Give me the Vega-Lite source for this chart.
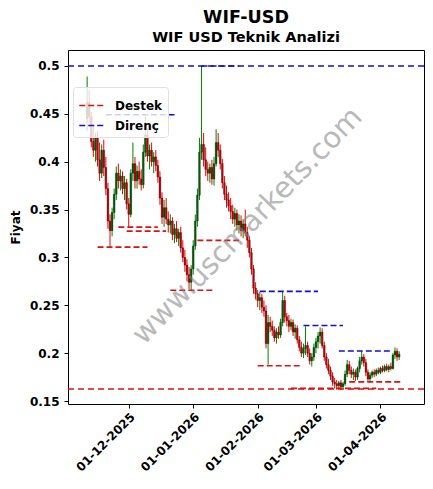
{
  "$schema": "https://vega.github.io/schema/vega-lite/v6.json",
  "width": 356,
  "height": 354,
  "autosize": {"type": "none"},
  "padding": {"left": 68, "top": 50, "right": 9, "bottom": 85},
  "background": "white",
  "title": {
    "text": "WIF-USD",
    "subtitle": "WIF USD Teknik Analizi",
    "font": "DejaVu Sans",
    "subtitleFont": "DejaVu Sans",
    "fontSize": 17.5,
    "subtitleFontSize": 14.5,
    "fontWeight": "bold",
    "subtitleFontWeight": "bold",
    "color": "black",
    "subtitleColor": "black",
    "anchor": "middle",
    "offset": 6,
    "subtitlePadding": 4
  },
  "config": {
    "view": {"stroke": "black", "strokeWidth": 1},
    "axis": {
      "labelFont": "DejaVu Sans",
      "labelFontWeight": "bold",
      "labelFontSize": 12,
      "labelColor": "black",
      "labelOverlap": false,
      "titleFont": "DejaVu Sans",
      "titleFontWeight": "bold",
      "titleFontSize": 12,
      "titleColor": "black",
      "tickColor": "black",
      "tickSize": 4,
      "domain": false,
      "grid": false
    },
    "legend": {
      "labelFont": "DejaVu Sans",
      "labelFontWeight": "bold",
      "labelFontSize": 12,
      "labelColor": "black",
      "labelOffset": 10,
      "symbolType": "stroke",
      "symbolStrokeWidth": 1.6,
      "symbolDash": [6, 3],
      "symbolSize": 600,
      "fillColor": "rgba(255,255,255,0.8)",
      "strokeColor": "#e0e0e0",
      "padding": 5,
      "rowPadding": 0,
      "cornerRadius": 3
    }
  },
  "datasets": {
    "candles": [
      {"d":"2025-11-11","o":0.445,"h":0.489,"l":0.432,"c":0.462},
      {"d":"2025-11-12","o":0.462,"h":0.475,"l":0.440,"c":0.447},
      {"d":"2025-11-13","o":0.447,"h":0.452,"l":0.415,"c":0.421},
      {"d":"2025-11-14","o":0.421,"h":0.438,"l":0.405,"c":0.412},
      {"d":"2025-11-15","o":0.412,"h":0.430,"l":0.400,"c":0.425},
      {"d":"2025-11-16","o":0.425,"h":0.432,"l":0.395,"c":0.402},
      {"d":"2025-11-17","o":0.402,"h":0.420,"l":0.380,"c":0.388},
      {"d":"2025-11-18","o":0.388,"h":0.418,"l":0.383,"c":0.412},
      {"d":"2025-11-19","o":0.412,"h":0.423,"l":0.385,"c":0.394},
      {"d":"2025-11-20","o":0.394,"h":0.405,"l":0.365,"c":0.372},
      {"d":"2025-11-21","o":0.372,"h":0.378,"l":0.330,"c":0.338},
      {"d":"2025-11-22","o":0.338,"h":0.345,"l":0.311,"c":0.328},
      {"d":"2025-11-23","o":0.328,"h":0.352,"l":0.322,"c":0.347},
      {"d":"2025-11-24","o":0.347,"h":0.372,"l":0.340,"c":0.366},
      {"d":"2025-11-25","o":0.366,"h":0.395,"l":0.360,"c":0.388},
      {"d":"2025-11-26","o":0.388,"h":0.398,"l":0.372,"c":0.380},
      {"d":"2025-11-27","o":0.380,"h":0.392,"l":0.370,"c":0.385},
      {"d":"2025-11-28","o":0.385,"h":0.390,"l":0.366,"c":0.372},
      {"d":"2025-11-29","o":0.372,"h":0.385,"l":0.360,"c":0.378},
      {"d":"2025-11-30","o":0.378,"h":0.382,"l":0.350,"c":0.356},
      {"d":"2025-12-01","o":0.356,"h":0.362,"l":0.331,"c":0.345},
      {"d":"2025-12-02","o":0.345,"h":0.392,"l":0.342,"c":0.388},
      {"d":"2025-12-03","o":0.388,"h":0.420,"l":0.380,"c":0.398},
      {"d":"2025-12-04","o":0.398,"h":0.405,"l":0.372,"c":0.380},
      {"d":"2025-12-05","o":0.380,"h":0.396,"l":0.372,"c":0.390},
      {"d":"2025-12-06","o":0.390,"h":0.400,"l":0.376,"c":0.382},
      {"d":"2025-12-07","o":0.382,"h":0.392,"l":0.370,"c":0.376},
      {"d":"2025-12-08","o":0.376,"h":0.418,"l":0.372,"c":0.410},
      {"d":"2025-12-09","o":0.410,"h":0.447,"l":0.405,"c":0.428},
      {"d":"2025-12-10","o":0.428,"h":0.435,"l":0.400,"c":0.406},
      {"d":"2025-12-11","o":0.406,"h":0.418,"l":0.392,"c":0.412},
      {"d":"2025-12-12","o":0.412,"h":0.420,"l":0.395,"c":0.400},
      {"d":"2025-12-13","o":0.400,"h":0.410,"l":0.388,"c":0.405},
      {"d":"2025-12-14","o":0.405,"h":0.412,"l":0.390,"c":0.396},
      {"d":"2025-12-15","o":0.396,"h":0.402,"l":0.378,"c":0.384},
      {"d":"2025-12-16","o":0.384,"h":0.390,"l":0.355,"c":0.362},
      {"d":"2025-12-17","o":0.362,"h":0.368,"l":0.335,"c":0.342},
      {"d":"2025-12-18","o":0.342,"h":0.360,"l":0.332,"c":0.352},
      {"d":"2025-12-19","o":0.352,"h":0.362,"l":0.335,"c":0.340},
      {"d":"2025-12-20","o":0.340,"h":0.348,"l":0.326,"c":0.334},
      {"d":"2025-12-21","o":0.334,"h":0.345,"l":0.325,"c":0.338},
      {"d":"2025-12-22","o":0.338,"h":0.342,"l":0.318,"c":0.324},
      {"d":"2025-12-23","o":0.324,"h":0.335,"l":0.315,"c":0.330},
      {"d":"2025-12-24","o":0.330,"h":0.338,"l":0.316,"c":0.320},
      {"d":"2025-12-25","o":0.320,"h":0.330,"l":0.312,"c":0.326},
      {"d":"2025-12-26","o":0.326,"h":0.332,"l":0.305,"c":0.310},
      {"d":"2025-12-27","o":0.310,"h":0.318,"l":0.295,"c":0.300},
      {"d":"2025-12-28","o":0.300,"h":0.308,"l":0.285,"c":0.292},
      {"d":"2025-12-29","o":0.292,"h":0.298,"l":0.275,"c":0.282},
      {"d":"2025-12-30","o":0.282,"h":0.290,"l":0.267,"c":0.274},
      {"d":"2025-12-31","o":0.274,"h":0.292,"l":0.266,"c":0.288},
      {"d":"2026-01-01","o":0.288,"h":0.318,"l":0.282,"c":0.312},
      {"d":"2026-01-02","o":0.312,"h":0.345,"l":0.308,"c":0.338},
      {"d":"2026-01-03","o":0.338,"h":0.372,"l":0.332,"c":0.365},
      {"d":"2026-01-04","o":0.365,"h":0.425,"l":0.360,"c":0.410},
      {"d":"2026-01-05","o":0.410,"h":0.500,"l":0.402,"c":0.418},
      {"d":"2026-01-06","o":0.418,"h":0.430,"l":0.395,"c":0.402},
      {"d":"2026-01-07","o":0.402,"h":0.415,"l":0.385,"c":0.392},
      {"d":"2026-01-08","o":0.392,"h":0.400,"l":0.380,"c":0.388},
      {"d":"2026-01-09","o":0.388,"h":0.398,"l":0.378,"c":0.394},
      {"d":"2026-01-10","o":0.394,"h":0.402,"l":0.376,"c":0.382},
      {"d":"2026-01-11","o":0.382,"h":0.405,"l":0.375,"c":0.398},
      {"d":"2026-01-12","o":0.398,"h":0.434,"l":0.395,"c":0.420},
      {"d":"2026-01-13","o":0.420,"h":0.430,"l":0.405,"c":0.412},
      {"d":"2026-01-14","o":0.412,"h":0.418,"l":0.392,"c":0.398},
      {"d":"2026-01-15","o":0.398,"h":0.403,"l":0.372,"c":0.378},
      {"d":"2026-01-16","o":0.378,"h":0.385,"l":0.360,"c":0.366},
      {"d":"2026-01-17","o":0.366,"h":0.375,"l":0.352,"c":0.360},
      {"d":"2026-01-18","o":0.360,"h":0.368,"l":0.348,"c":0.354},
      {"d":"2026-01-19","o":0.354,"h":0.362,"l":0.340,"c":0.348},
      {"d":"2026-01-20","o":0.348,"h":0.355,"l":0.335,"c":0.340},
      {"d":"2026-01-21","o":0.340,"h":0.352,"l":0.332,"c":0.346},
      {"d":"2026-01-22","o":0.346,"h":0.350,"l":0.328,"c":0.334},
      {"d":"2026-01-23","o":0.334,"h":0.345,"l":0.325,"c":0.338},
      {"d":"2026-01-24","o":0.338,"h":0.344,"l":0.322,"c":0.328},
      {"d":"2026-01-25","o":0.328,"h":0.340,"l":0.320,"c":0.335},
      {"d":"2026-01-26","o":0.335,"h":0.350,"l":0.322,"c":0.326},
      {"d":"2026-01-27","o":0.326,"h":0.332,"l":0.310,"c":0.318},
      {"d":"2026-01-28","o":0.318,"h":0.322,"l":0.300,"c":0.305},
      {"d":"2026-01-29","o":0.305,"h":0.310,"l":0.282,"c":0.288},
      {"d":"2026-01-30","o":0.288,"h":0.292,"l":0.262,"c":0.268},
      {"d":"2026-01-31","o":0.268,"h":0.274,"l":0.256,"c":0.262},
      {"d":"2026-02-01","o":0.262,"h":0.266,"l":0.248,"c":0.255},
      {"d":"2026-02-02","o":0.255,"h":0.264,"l":0.245,"c":0.258},
      {"d":"2026-02-03","o":0.258,"h":0.262,"l":0.242,"c":0.248},
      {"d":"2026-02-04","o":0.248,"h":0.255,"l":0.238,"c":0.244},
      {"d":"2026-02-05","o":0.244,"h":0.250,"l":0.205,"c":0.210},
      {"d":"2026-02-06","o":0.210,"h":0.240,"l":0.188,"c":0.232},
      {"d":"2026-02-07","o":0.232,"h":0.238,"l":0.222,"c":0.228},
      {"d":"2026-02-08","o":0.228,"h":0.234,"l":0.218,"c":0.224},
      {"d":"2026-02-09","o":0.224,"h":0.228,"l":0.212,"c":0.216},
      {"d":"2026-02-10","o":0.216,"h":0.226,"l":0.210,"c":0.222},
      {"d":"2026-02-11","o":0.222,"h":0.228,"l":0.215,"c":0.219},
      {"d":"2026-02-12","o":0.219,"h":0.236,"l":0.216,"c":0.232},
      {"d":"2026-02-13","o":0.232,"h":0.264,"l":0.228,"c":0.255},
      {"d":"2026-02-14","o":0.255,"h":0.260,"l":0.232,"c":0.238},
      {"d":"2026-02-15","o":0.238,"h":0.242,"l":0.228,"c":0.234},
      {"d":"2026-02-16","o":0.234,"h":0.240,"l":0.222,"c":0.228},
      {"d":"2026-02-17","o":0.228,"h":0.236,"l":0.224,"c":0.232},
      {"d":"2026-02-18","o":0.232,"h":0.235,"l":0.218,"c":0.222},
      {"d":"2026-02-19","o":0.222,"h":0.230,"l":0.215,"c":0.226},
      {"d":"2026-02-20","o":0.226,"h":0.229,"l":0.210,"c":0.214},
      {"d":"2026-02-21","o":0.214,"h":0.218,"l":0.202,"c":0.206},
      {"d":"2026-02-22","o":0.206,"h":0.212,"l":0.196,"c":0.200},
      {"d":"2026-02-23","o":0.200,"h":0.210,"l":0.195,"c":0.205},
      {"d":"2026-02-24","o":0.205,"h":0.228,"l":0.198,"c":0.208},
      {"d":"2026-02-25","o":0.208,"h":0.212,"l":0.196,"c":0.200},
      {"d":"2026-02-26","o":0.200,"h":0.205,"l":0.188,"c":0.192},
      {"d":"2026-02-27","o":0.192,"h":0.200,"l":0.186,"c":0.196},
      {"d":"2026-02-28","o":0.196,"h":0.210,"l":0.192,"c":0.206},
      {"d":"2026-03-01","o":0.206,"h":0.216,"l":0.200,"c":0.212},
      {"d":"2026-03-02","o":0.212,"h":0.222,"l":0.205,"c":0.218},
      {"d":"2026-03-03","o":0.218,"h":0.227,"l":0.210,"c":0.222},
      {"d":"2026-03-04","o":0.222,"h":0.226,"l":0.205,"c":0.208},
      {"d":"2026-03-05","o":0.208,"h":0.212,"l":0.192,"c":0.196},
      {"d":"2026-03-06","o":0.196,"h":0.200,"l":0.184,"c":0.188},
      {"d":"2026-03-07","o":0.188,"h":0.194,"l":0.178,"c":0.182},
      {"d":"2026-03-08","o":0.182,"h":0.186,"l":0.172,"c":0.176},
      {"d":"2026-03-09","o":0.176,"h":0.180,"l":0.166,"c":0.170},
      {"d":"2026-03-10","o":0.170,"h":0.174,"l":0.163,"c":0.168},
      {"d":"2026-03-11","o":0.168,"h":0.172,"l":0.162,"c":0.166},
      {"d":"2026-03-12","o":0.166,"h":0.171,"l":0.163,"c":0.169},
      {"d":"2026-03-13","o":0.169,"h":0.172,"l":0.162,"c":0.165},
      {"d":"2026-03-14","o":0.165,"h":0.170,"l":0.163,"c":0.168},
      {"d":"2026-03-15","o":0.168,"h":0.182,"l":0.166,"c":0.178},
      {"d":"2026-03-16","o":0.178,"h":0.193,"l":0.175,"c":0.188},
      {"d":"2026-03-17","o":0.188,"h":0.192,"l":0.178,"c":0.182},
      {"d":"2026-03-18","o":0.182,"h":0.186,"l":0.174,"c":0.178},
      {"d":"2026-03-19","o":0.178,"h":0.184,"l":0.172,"c":0.180},
      {"d":"2026-03-20","o":0.180,"h":0.183,"l":0.171,"c":0.175},
      {"d":"2026-03-21","o":0.175,"h":0.186,"l":0.172,"c":0.184},
      {"d":"2026-03-22","o":0.184,"h":0.196,"l":0.180,"c":0.192},
      {"d":"2026-03-23","o":0.192,"h":0.202,"l":0.188,"c":0.196},
      {"d":"2026-03-24","o":0.196,"h":0.199,"l":0.186,"c":0.190},
      {"d":"2026-03-25","o":0.190,"h":0.194,"l":0.176,"c":0.180},
      {"d":"2026-03-26","o":0.180,"h":0.183,"l":0.170,"c":0.173},
      {"d":"2026-03-27","o":0.173,"h":0.180,"l":0.170,"c":0.177},
      {"d":"2026-03-28","o":0.177,"h":0.182,"l":0.174,"c":0.180},
      {"d":"2026-03-29","o":0.180,"h":0.183,"l":0.175,"c":0.178},
      {"d":"2026-03-30","o":0.178,"h":0.184,"l":0.176,"c":0.182},
      {"d":"2026-03-31","o":0.182,"h":0.185,"l":0.178,"c":0.180},
      {"d":"2026-04-01","o":0.180,"h":0.186,"l":0.178,"c":0.184},
      {"d":"2026-04-02","o":0.184,"h":0.187,"l":0.180,"c":0.182},
      {"d":"2026-04-03","o":0.182,"h":0.188,"l":0.180,"c":0.186},
      {"d":"2026-04-04","o":0.186,"h":0.189,"l":0.181,"c":0.183},
      {"d":"2026-04-05","o":0.183,"h":0.188,"l":0.180,"c":0.186},
      {"d":"2026-04-06","o":0.186,"h":0.190,"l":0.182,"c":0.184},
      {"d":"2026-04-07","o":0.184,"h":0.200,"l":0.183,"c":0.198},
      {"d":"2026-04-08","o":0.198,"h":0.206,"l":0.194,"c":0.202},
      {"d":"2026-04-09","o":0.202,"h":0.205,"l":0.192,"c":0.196},
      {"d":"2026-04-10","o":0.196,"h":0.202,"l":0.193,"c":0.199}
    ],
    "levels": [
      {"type":"Destek","y":0.3108,"x1":"2025-11-16","x2":"2025-12-10"},
      {"type":"Destek","y":0.3317,"x1":"2025-11-26","x2":"2025-12-15"},
      {"type":"Destek","y":0.3275,"x1":"2025-11-30","x2":"2025-12-19"},
      {"type":"Destek","y":0.2658,"x1":"2025-12-21","x2":"2026-01-11"},
      {"type":"Destek","y":0.3178,"x1":"2026-01-03","x2":"2026-01-23"},
      {"type":"Destek","y":0.1869,"x1":"2026-02-01","x2":"2026-02-22"},
      {"type":"Destek","y":0.1632,"x1":"2026-02-17","x2":"2026-03-30"},
      {"type":"Destek","y":0.1700,"x1":"2026-03-17","x2":"2026-04-11"},
      {"type":"Direnç","y":0.4490,"x1":"2025-11-20","x2":"2025-12-23"},
      {"type":"Direnç","y":0.5000,"x1":"2026-01-05","x2":"2026-01-23"},
      {"type":"Direnç","y":0.2646,"x1":"2026-02-02","x2":"2026-03-02"},
      {"type":"Direnç","y":0.2289,"x1":"2026-02-23","x2":"2026-03-14"},
      {"type":"Direnç","y":0.2022,"x1":"2026-03-12","x2":"2026-04-07"}
    ],
    "mainlevels": [
      {"type":"Destek","y":0.1626},
      {"type":"Direnç","y":0.5}
    ],
    "wm": [
      {"d":"2026-01-27","p":0.333,"t":"www.uscmarkets.com"}
    ]
  },
  "encoding": {
    "x": {
      "field": "d",
      "type": "temporal",
      "scale": {
        "type": "utc",
        "domain": [
          {"year": 2025, "month": 11, "date": 4, "hours": 5, "utc": true},
          {"year": 2026, "month": 4, "date": 19, "hours": 13, "utc": true}
        ]
      },
      "axis": {
        "title": null,
        "format": "%d-%m-%Y",
        "labelAngle": -45,
        "labelAlign": "right",
        "labelBaseline": "top",
        "labelPadding": 3,
        "values": [
          {"year": 2025, "month": 12, "date": 1, "utc": true},
          {"year": 2026, "month": 1, "date": 1, "utc": true},
          {"year": 2026, "month": 2, "date": 1, "utc": true},
          {"year": 2026, "month": 3, "date": 1, "utc": true},
          {"year": 2026, "month": 4, "date": 1, "utc": true}
        ]
      }
    }
  },
  "layer": [
    {
      "data": {"name": "candles"},
      "mark": {"type": "rule", "strokeWidth": 1},
      "encoding": {
        "y": {
          "field": "l",
          "type": "quantitative",
          "scale": {"domain": [0.1469, 0.5167], "nice": false, "zero": false},
          "axis": {
            "title": "Fiyat",
            "values": [0.15, 0.2, 0.25, 0.3, 0.35, 0.4, 0.45, 0.5],
            "format": "~g",
            "labelPadding": 5,
            "titlePadding": 7
          }
        },
        "y2": {"field": "h"},
        "color": {
          "condition": {"test": "datum.c >= datum.o", "value": "#008000"},
          "value": "#ee0000"
        }
      }
    },
    {
      "data": {"name": "candles"},
      "mark": {"type": "bar", "size": 1.8, "stroke": "black", "strokeWidth": 0.3},
      "encoding": {
        "y": {"field": "o", "type": "quantitative"},
        "y2": {"field": "c"},
        "fill": {
          "condition": {"test": "datum.c >= datum.o", "value": "#006400"},
          "value": "#cc0000"
        }
      }
    },
    {
      "data": {"name": "levels"},
      "mark": {"type": "rule", "strokeWidth": 1.6, "strokeDash": [6, 3]},
      "encoding": {
        "x": {"field": "x1", "type": "temporal"},
        "x2": {"field": "x2"},
        "y": {"field": "y", "type": "quantitative"},
        "color": {
          "field": "type",
          "type": "nominal",
          "scale": {"domain": ["Destek", "Direnç"], "range": ["#dd1111", "#1111cc"]},
          "legend": {"title": null, "orient": "none", "legendX": 5, "legendY": 37}
        }
      }
    },
    {
      "data": {"name": "mainlevels"},
      "mark": {"type": "rule", "strokeWidth": 1.5, "strokeDash": [6, 4]},
      "encoding": {
        "x": null,
        "y": {"field": "y", "type": "quantitative"},
        "color": {"field": "type", "type": "nominal"}
      }
    },
    {
      "data": {"name": "wm"},
      "mark": {
        "type": "text",
        "angle": -46,
        "font": "DejaVu Sans",
        "fontSize": 29,
        "color": "#808080",
        "opacity": 0.55,
        "align": "center",
        "baseline": "middle"
      },
      "encoding": {
        "y": {"field": "p", "type": "quantitative"},
        "text": {"field": "t"}
      }
    }
  ]
}
